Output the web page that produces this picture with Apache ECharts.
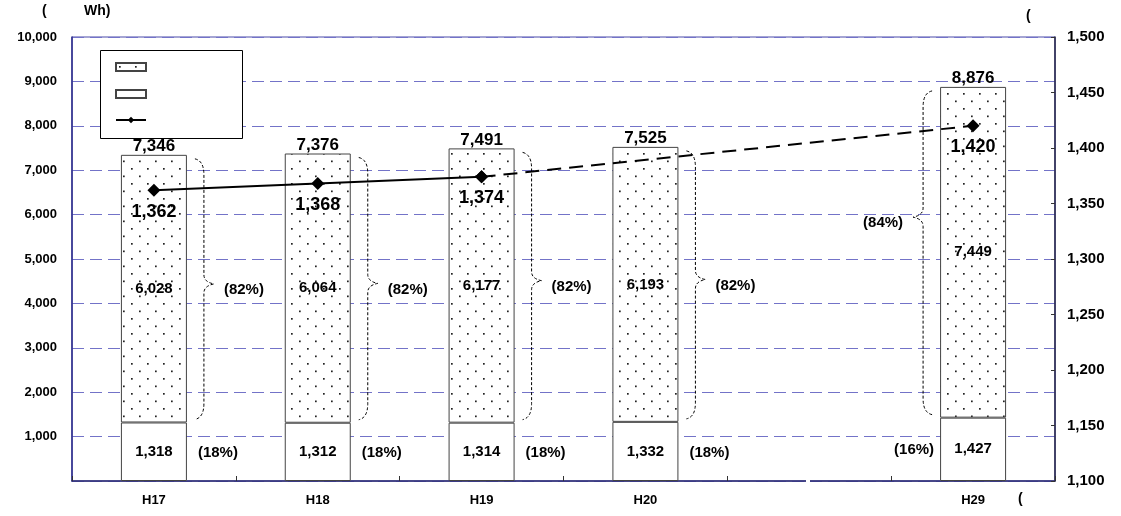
<!DOCTYPE html>
<html>
<head>
<meta charset="utf-8">
<script src="https://cdn.jsdelivr.net/npm/echarts@6/dist/echarts.min.js"></script>
<style>
  html, body { margin: 0; padding: 0; background: #fff; }
  #chart { width: 1121px; height: 516px; }
</style>
</head>
<body>
<div id="chart"></div>
<script>
// 年度（H20 と H29 の間は省略）
const categories = ["H17", "H18", "H19", "H20", "", "H29"];
const lowerValues = [1318, 1312, 1314, 1332, "-", 1427];
const upperValues = [6028, 6064, 6177, 6193, "-", 7449];
const totalValues = [7346, 7376, 7491, 7525, "-", 8876];
const upperShare = [82, 82, 82, 82, "-", 84];
const lowerShare = [18, 18, 18, 18, "-", 16];
const lineValues = [1362, 1368, 1374, "-", "-", 1420];
const leftTicks = { min: 0, max: 10000, interval: 1000 };
const rightTicks = { min: 1100, max: 1500, interval: 50 };

const FONT = "'Liberation Sans', Arial, sans-serif";
const fmt = (v) => Number(v).toLocaleString("en-US");

// ドット柄
function dotPattern() {
  const c = document.createElement("canvas");
  c.width = 16;
  c.height = 15;
  const ctx = c.getContext("2d");
  ctx.fillStyle = "#fff";
  ctx.fillRect(0, 0, 16, 15);
  ctx.fillStyle = "#222";
  ctx.fillRect(3, 3, 1.7, 1.7);
  ctx.fillRect(11, 10.5, 1.7, 1.7);
  return c;
}
const pattern = { image: dotPattern(), repeat: "repeat" };

const BAR_W = 66;
const myChart = echarts.init(document.getElementById("chart"));

// 波括弧と構成比
function renderBrace(params, api) {
  const i = api.value(0);
  const low = api.value(1);
  const high = api.value(2);
  const left = categories[i] === "H29";
  const top = api.coord([i, high]);
  const bot = api.coord([i, low]);
  const cx = top[0];
  const yt = top[1] + 4;
  const yb = bot[1] - 3;
  const ym = yt + (yb - yt) * (left ? 0.39 : 0.48);
  const s = left ? -1 : 1;
  const x0 = cx + s * (BAR_W / 2);
  const xa = x0 + s * 8;
  const xv = x0 + s * 17;
  const xp = x0 + s * 27;
  const d =
    "M" + xa + " " + yt +
    " Q" + xv + " " + (yt + 2) + " " + xv + " " + (yt + 16) +
    " L" + xv + " " + (ym - 9) +
    " Q" + xv + " " + (ym - 2) + " " + xp + " " + ym +
    " Q" + xv + " " + (ym + 2) + " " + xv + " " + (ym + 9) +
    " L" + xv + " " + (yb - 16) +
    " Q" + xv + " " + (yb - 2) + " " + xa + " " + yb;
  const lowMid = api.coord([i, low / 2])[1];
  return {
    type: "group",
    children: [
      {
        type: "path",
        shape: { pathData: d },
        style: { stroke: "#000", lineWidth: 1, lineDash: [3, 2], fill: null },
      },
      {
        type: "text",
        x: x0 + s * 37,
        y: ym + 6,
        style: {
          text: "(" + api.value(3) + "%)",
          fill: "#000",
          font: "bold 15px " + FONT,
          align: left ? "right" : "left",
          verticalAlign: "middle",
        },
      },
      {
        type: "text",
        x: x0 + s * (left ? 6 : 11),
        y: lowMid + 1,
        style: {
          text: "(" + api.value(4) + "%)",
          fill: "#000",
          font: "bold 15px " + FONT,
          align: left ? "right" : "left",
          verticalAlign: "middle",
        },
      },
    ],
  };
}

const braceData = [];
categories.forEach((c, i) => {
  if (totalValues[i] !== "-") {
    braceData.push([i, lowerValues[i], totalValues[i], upperShare[i], lowerShare[i]]);
  }
});

var option = {
  animation: false,
  textStyle: { fontFamily: FONT },
  grid: {
    left: 72,
    right: 66,
    top: 37,
    bottom: 35,
    show: true,
    borderColor: "#4a4aa8",
    borderWidth: 1,
  },
  legend: {
    left: 110,
    top: 57,
    orient: "vertical",
    itemWidth: 30,
    itemHeight: 8,
    itemGap: 17,
    formatter: () => "",
    textStyle: { fontSize: 8 },
    data: [
      { name: "上部", icon: "rect" },
      { name: "下部", icon: "rect" },
      { name: "推移" },
    ],
  },
  graphic: [
    {
      type: "rect",
      left: 100,
      top: 50,
      z: 3,
      shape: { width: 142, height: 88 },
      style: { fill: "#fff", stroke: "#000", lineWidth: 1 },
    },
    {
      type: "rect",
      left: 806,
      top: 476,
      z: 10,
      shape: { width: 4, height: 8 },
      style: { fill: "#fff" },
    },
    { type: "text", left: 42, top: 4, style: { text: "(", font: "bold 14px " + FONT, fill: "#000" } },
    { type: "text", left: 84, top: 4, style: { text: "Wh)", font: "bold 14px " + FONT, fill: "#000" } },
    { type: "text", left: 1026, top: 9, style: { text: "(", font: "bold 14px " + FONT, fill: "#000" } },
    { type: "text", left: 1018, top: 492, style: { text: "(", font: "bold 14px " + FONT, fill: "#000" } },
  ],
  xAxis: {
    type: "category",
    data: categories,
    boundaryGap: true,
    axisLine: { lineStyle: { color: "#2a2a70", width: 1.5 } },
    axisTick: { show: true, inside: true, length: 5, lineStyle: { color: "#333" } },
    axisLabel: { color: "#000", fontSize: 13, fontWeight: "bold", margin: 13, fontFamily: FONT },
  },
  yAxis: [
    {
      type: "value",
      min: leftTicks.min,
      max: leftTicks.max,
      interval: leftTicks.interval,
      axisLine: { show: true, lineStyle: { color: "#2a2a8a", width: 1.5 } },
      axisTick: { show: false },
      axisLabel: {
        color: "#000",
        fontSize: 13,
        fontWeight: "bold",
        margin: 15,
        fontFamily: FONT,
        formatter: (v) => (v === 0 ? "" : fmt(v)),
      },
      splitLine: { lineStyle: { color: "#7373c8", type: [12, 6], width: 1 } },
    },
    {
      type: "value",
      min: rightTicks.min,
      max: rightTicks.max,
      interval: rightTicks.interval,
      position: "right",
      axisLine: { show: true, lineStyle: { color: "#222244", width: 1.5 } },
      axisTick: { show: true, inside: true, length: 4, lineStyle: { color: "#333" } },
      axisLabel: {
        color: "#000",
        fontSize: 15,
        fontWeight: "bold",
        margin: 12,
        fontFamily: FONT,
        formatter: (v) => fmt(v),
      },
      splitLine: { show: false },
    },
  ],
  series: [
    {
      name: "下部",
      type: "bar",
      stack: "total",
      barWidth: BAR_W,
      itemStyle: { color: "#fff", borderColor: "#444", borderWidth: 1 },
      label: {
        show: true,
        position: "inside",
        color: "#000",
        fontSize: 15,
        fontWeight: "bold",
        formatter: (p) => fmt(p.value),
      },
      data: lowerValues,
    },
    {
      name: "上部",
      type: "bar",
      stack: "total",
      barWidth: BAR_W,
      itemStyle: { color: pattern, borderColor: "#444", borderWidth: 1 },
      label: {
        show: true,
        position: "inside",
        color: "#000",
        fontSize: 15,
        fontWeight: "bold",
        formatter: (p) => fmt(p.value),
      },
      data: upperValues,
    },
    {
      name: "合計",
      type: "scatter",
      symbolSize: 0,
      silent: true,
      itemStyle: { opacity: 1, color: "#000" },
      label: {
        show: true,
        position: "top",
        distance: 0,
        color: "#000",
        opacity: 1,
        fontSize: 17,
        fontWeight: "bold",
        formatter: (p) => fmt(p.value),
      },
      data: totalValues,
    },
    {
      name: "構成",
      type: "custom",
      renderItem: renderBrace,
      silent: true,
      z: 1,
      data: braceData,
    },
    {
      name: "推移",
      type: "line",
      yAxisIndex: 1,
      symbol: "diamond",
      symbolSize: 13,
      z: 5,
      lineStyle: { color: "#000", width: 2 },
      itemStyle: { color: "#000" },
      label: {
        show: true,
        position: "bottom",
        distance: 6,
        color: "#000",
        fontSize: 18,
        fontWeight: "bold",
        formatter: (p) => fmt(p.value),
      },
      data: lineValues.map((v, i) => (i <= 2 ? v : "-")),
    },
    {
      name: "推移（予測）",
      type: "line",
      yAxisIndex: 1,
      connectNulls: true,
      symbol: "diamond",
      symbolSize: 13,
      z: 5,
      lineStyle: { color: "#000", width: 2, type: [14, 8] },
      itemStyle: { color: "#000" },
      label: {
        show: true,
        position: "bottom",
        distance: 6,
        color: "#000",
        fontSize: 18,
        fontWeight: "bold",
        formatter: (p) => (p.dataIndex === 2 ? "" : fmt(p.value)),
      },
      data: lineValues.map((v, i) => (i >= 2 ? v : "-")),
    },
  ],
};

myChart.setOption(option);
window.addEventListener("resize", function () {
  myChart.resize();
});
</script>
</body>
</html>
